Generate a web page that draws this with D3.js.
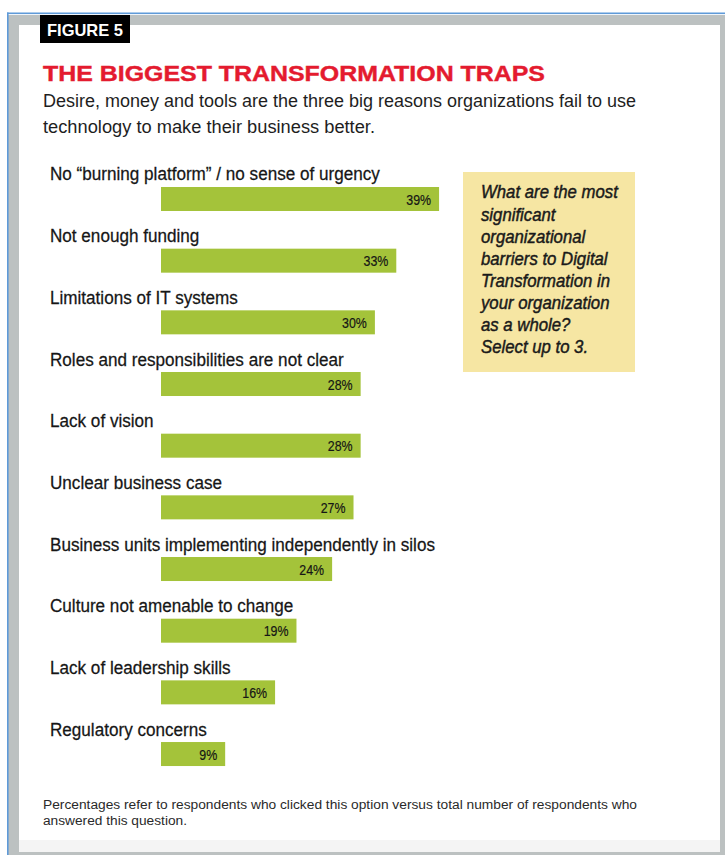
<!DOCTYPE html>
<html>
<head>
<meta charset="utf-8">
<script src="https://cdn.jsdelivr.net/npm/d3@7/dist/d3.min.js"></script>
<style>
  html, body { margin: 0; padding: 0; background: #ffffff; }
  svg { display: block; }
</style>
</head>
<body>
<script>
// Survey answers: organizational barriers to Digital Transformation
const categories = [
  "No \u201cburning platform\u201d / no sense of urgency",
  "Not enough funding",
  "Limitations of IT systems",
  "Roles and responsibilities are not clear",
  "Lack of vision",
  "Unclear business case",
  "Business units implementing independently in silos",
  "Culture not amenable to change",
  "Lack of leadership skills",
  "Regulatory concerns"
];
const values = [39, 33, 30, 28, 28, 27, 24, 19, 16, 9];

const figureTag = "FIGURE 5";
const title = "THE BIGGEST TRANSFORMATION TRAPS";
const subtitleLines = [
  "Desire, money and tools are the three big reasons organizations fail to use",
  "technology to make their business better."
];
const questionLines = [
  "What are the most",
  "significant",
  "organizational",
  "barriers to Digital",
  "Transformation in",
  "your organization",
  "as a whole?",
  "Select up to 3."
];
const footnoteLines = [
  "Percentages refer to respondents who clicked this option versus total number of respondents who",
  "answered this question."
];

const W = 725, H = 855;
const sans = "'Liberation Sans', Arial, Helvetica, sans-serif";

// horizontally condense a text selection around its x anchor
function condense(sel, k) {
  sel.each(function () {
    const t = d3.select(this);
    const x0 = +t.attr("x");
    t.attr("transform", `translate(${x0},0) scale(${k},1) translate(${-x0},0)`);
  });
}

const svg = d3.select("body").append("svg")
  .attr("width", W).attr("height", H);

// ---- page frame ----
svg.append("rect").attr("x", 0).attr("y", 0).attr("width", W).attr("height", H).attr("fill", "#ffffff");
const frame = svg.append("g");
frame.append("rect").attr("x", 8).attr("y", 15).attr("width", W - 8).attr("height", H - 15).attr("fill", "#bcc1c1");
frame.append("rect").attr("x", 19).attr("y", 25).attr("width", 720 - 19).attr("height", 852 - 25).attr("fill", "#f4f4f4");
frame.append("rect").attr("x", 19).attr("y", 25).attr("width", 720 - 19).attr("height", 840 - 25).attr("fill", "#ffffff");
frame.append("rect").attr("x", 7).attr("y", 12.5).attr("width", W - 7).attr("height", 1.6).attr("fill", "#5f9ad8");
frame.append("rect").attr("x", 7).attr("y", 12.5).attr("width", 1.6).attr("height", H - 12.5).attr("fill", "#5f9ad8");

// ---- figure tag ----
svg.append("rect").attr("x", 40).attr("y", 15).attr("width", 90).attr("height", 28).attr("fill", "#000000");
svg.append("text").attr("x", 47).attr("y", 36)
  .attr("font-family", sans).attr("font-weight", "bold").attr("font-size", 17)
  .attr("fill", "#ffffff")
  .attr("textLength", 76).attr("lengthAdjust", "spacingAndGlyphs")
  .text(figureTag);

// ---- title + subtitle ----
svg.append("text").attr("x", 43).attr("y", 80.5)
  .attr("font-family", sans).attr("font-weight", "bold").attr("font-size", 21.5)
  .attr("fill", "#e41b2f").attr("stroke", "#e41b2f").attr("stroke-width", 0.4)
  .attr("textLength", 502).attr("lengthAdjust", "spacingAndGlyphs")
  .text(title);

const subW = [593, 332];
svg.append("g").selectAll("text").data(subtitleLines).join("text")
  .attr("x", 43).attr("y", (d, i) => 107 + i * 26)
  .attr("font-family", sans).attr("font-size", 17.5)
  .attr("fill", "#1e1e1e")
  .attr("textLength", (d, i) => subW[i]).attr("lengthAdjust", "spacingAndGlyphs")
  .text(d => d);

// ---- bars ----
const x = d3.scaleLinear().domain([0, 100]).range([161, 161 + 713]);
const y = d3.scaleBand().domain(categories).range([163, 163 + 61.67 * categories.length]).padding(0);
const rows = categories.map((c, i) => ({ c, v: values[i] }));

const row = svg.append("g").selectAll("g").data(rows).join("g")
  .attr("transform", d => `translate(0,${y(d.c)})`);

const labels = row.append("text")
  .attr("x", 50).attr("y", 17.5)
  .attr("font-family", sans).attr("font-size", 17.5)
  .attr("fill", "#161616").attr("stroke", "#161616").attr("stroke-width", 0.25)
  .text(d => d.c);

// condense the category labels uniformly to the width of the longest one
const refW = labels.nodes()[0].getComputedTextLength();
condense(labels, 330 / refW);

row.append("rect")
  .attr("x", x(0)).attr("y", 24)
  .attr("width", d => x(d.v) - x(0)).attr("height", 24)
  .attr("fill", "#a4c33a");

const pct = row.append("text")
  .attr("x", d => x(d.v) - 8).attr("y", 36).attr("dy", "0.36em")
  .attr("text-anchor", "end")
  .attr("font-family", sans).attr("font-size", 15.5)
  .attr("fill", "#151515").attr("stroke", "#151515").attr("stroke-width", 0.2)
  .text(d => d.v + "%");
condense(pct, 0.8);

// ---- question callout ----
svg.append("rect").attr("x", 463).attr("y", 172).attr("width", 172).attr("height", 200).attr("fill", "#f6e6a3");
const q = svg.append("g").selectAll("text").data(questionLines).join("text")
  .attr("x", 481).attr("y", (d, i) => 192 + i * 22.1).attr("dy", "0.36em")
  .attr("font-family", sans).attr("font-style", "italic").attr("font-size", 18)
  .attr("fill", "#1a1a1a").attr("stroke", "#1a1a1a").attr("stroke-width", 0.45)
  .text(d => d);
const qW = q.nodes()[0].getComputedTextLength();
condense(q, 137 / qW);

// ---- footnote ----
const footW = [594, 144];
svg.append("g").selectAll("text").data(footnoteLines).join("text")
  .attr("x", 43).attr("y", (d, i) => 805 + i * 15.5).attr("dy", "0.35em")
  .attr("font-family", sans).attr("font-size", 12.5)
  .attr("fill", "#2a2a2a")
  .attr("textLength", (d, i) => footW[i]).attr("lengthAdjust", "spacingAndGlyphs")
  .text(d => d);
</script>
</body>
</html>
